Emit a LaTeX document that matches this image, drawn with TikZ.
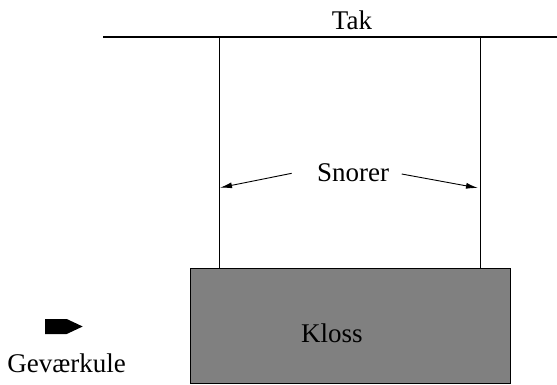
\documentclass[tikz,border=0pt]{standalone}
\usepackage{fontspec}
\setmainfont{Liberation Serif}
\newfontfamily\timesfont{Liberation Serif}
\usetikzlibrary{arrows.meta}
\definecolor{blockgray}{RGB}{128,128,128}
\begin{document}
\begin{tikzpicture}[x=1pt,y=-1pt,
  lbl/.style={font=\timesfont\fontsize{27}{31}\selectfont, inner sep=0pt, anchor=base},
  string/.style={line width=0.9pt},
  pointer/.style={line width=0.9pt, -{Latex[length=12pt,width=6pt]}}]
\useasboundingbox (0,0) rectangle (557,385);
% ceiling
\coordinate (ceilL) at (103,37);
\coordinate (ceilR) at (557,37);
\draw[line width=1.4pt] (ceilL) -- (ceilR);
\node[lbl] (tak) at (352,30) {Tak};
% block
\node[draw, line width=0.8pt, fill=blockgray, minimum width=320pt, minimum height=115pt, inner sep=0pt] (box) at (350.7,325.8) {};
\node[lbl] (kloss) at (332,342) {Kloss};
% strings
\coordinate (sl) at (219.3,37);
\coordinate (sr) at (480.7,37);
\draw[string] (sl) -- (sl |- box.north);
\draw[string] (sr) -- (sr |- box.north);
% label and pointers
\node[lbl] (snorer) at (353,182) {Snorer};
\coordinate (aLs) at (291.7,173.3);
\coordinate (aLe) at (220,187.7);
\coordinate (aRs) at (401.7,174);
\coordinate (aRe) at (478,188);
\draw[pointer] (aLs) -- (aLe);
\draw[pointer] (aRs) -- (aRe);
% bullet
\fill (45,319) -- (66.7,319) -- (82.7,326.5) -- (66.7,334) -- (45,334) -- cycle;
\node[lbl] (kule) at (66.7,372) {Geværkule};
\end{tikzpicture}
\end{document}
